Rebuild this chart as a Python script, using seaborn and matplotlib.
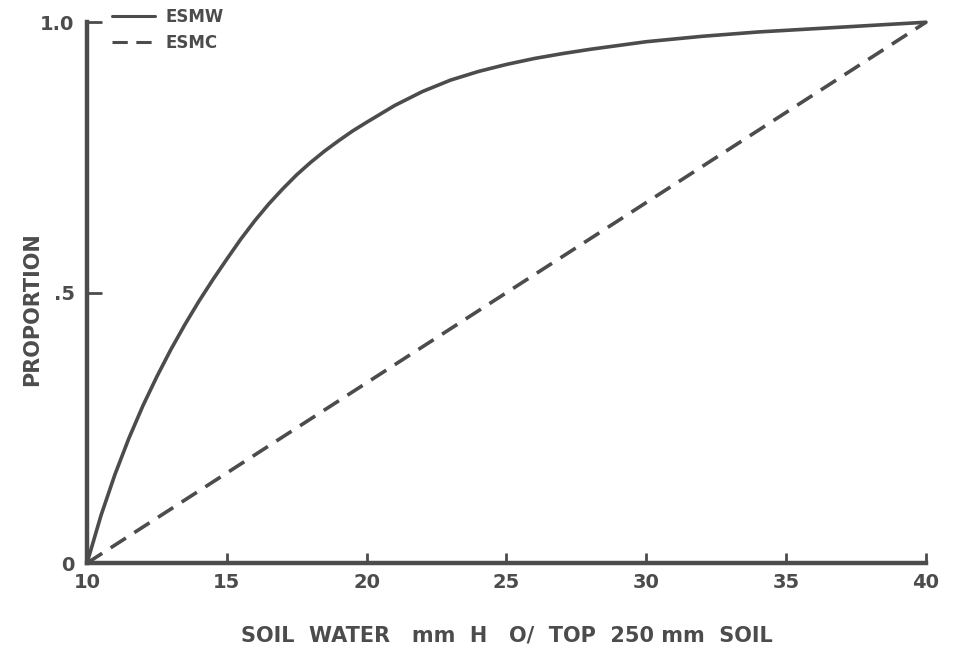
import numpy as np
import pandas as pd
import matplotlib
matplotlib.use("Agg")
import matplotlib.pyplot as plt
import seaborn as sns

# Soil water (mm H2O in the top 250 mm of soil) and the proportion of
# evaporation for each scheme.
esmw_water = [10, 10.5, 11, 11.5, 12, 12.5, 13, 13.5, 14, 14.5, 15, 15.5,
              16, 16.5, 17, 17.5, 18, 18.5, 19, 19.5, 20, 21, 22, 23, 24,
              25, 26, 27, 28, 29, 30, 32, 34, 36, 38, 40]
esmw_prop = [0.000, 0.088, 0.164, 0.231, 0.291, 0.345, 0.395, 0.441, 0.484,
             0.524, 0.562, 0.599, 0.633, 0.664, 0.692, 0.718, 0.741, 0.762,
             0.781, 0.799, 0.815, 0.846, 0.872, 0.893, 0.909, 0.922, 0.933,
             0.942, 0.950, 0.957, 0.964, 0.974, 0.982, 0.988, 0.994, 1.000]

esmc_water = [10, 40]
esmc_prop = [0.0, 1.0]

x_ticks = [10, 15, 20, 25, 30, 35, 40]
y_ticks = [0, 0.5, 1.0]
y_tick_labels = ["0", ".5", "1.0"]

df = pd.concat([
    pd.DataFrame({"water": esmw_water, "prop": esmw_prop, "series": "ESMW"}),
    pd.DataFrame({"water": esmc_water, "prop": esmc_prop, "series": "ESMC"}),
], ignore_index=True)

sns.set_theme(style="white")
plt.rcParams["font.family"] = ["DejaVu Sans"]
plt.rcParams["font.weight"] = "bold"

ink = "#4c4c4c"

fig = plt.figure(figsize=(9.55, 6.54), dpi=100)
ax = fig.add_axes([0.0911, 0.139, 0.8785, 0.827])

sns.lineplot(data=df, x="water", y="prop", hue="series", style="series",
             palette={"ESMW": ink, "ESMC": ink},
             dashes={"ESMW": "", "ESMC": (5, 2.8)},
             linewidth=2.6, ax=ax, legend=True, sort=False)
for ln in ax.lines:
    ln.set_clip_on(False)
    ln.set_solid_capstyle("round")
    ln.set_solid_joinstyle("round")
    ln.set_dash_capstyle("butt")

ax.set_xlim(10, 40)
ax.set_ylim(0, 1.0)
sns.despine(ax=ax)
for side in ("left", "bottom"):
    ax.spines[side].set_linewidth(3.2)
    ax.spines[side].set_color(ink)

ax.set_xticks(x_ticks)
ax.set_yticks(y_ticks)
ax.set_yticklabels(y_tick_labels)
ax.tick_params(axis="x", direction="in", length=7, width=2, color=ink,
               labelsize=14, labelcolor=ink, pad=7, bottom=True)
ax.tick_params(axis="y", direction="in", length=11, width=2, color=ink,
               labelsize=14, labelcolor=ink, pad=9, left=True)

ax.set_xlabel("SOIL  WATER   mm  H   O/  TOP  250 mm  SOIL", fontsize=15,
              color=ink, labelpad=24, fontweight="bold")
ax.set_ylabel("PROPORTION", fontsize=15, color=ink, fontweight="bold")
ax.yaxis.set_label_coords(-0.054, 0.47)

leg = ax.legend(loc="upper left", bbox_to_anchor=(0.117, 0.988),
                bbox_transform=fig.transFigure, frameon=False,
                prop={"size": 12, "weight": "bold"}, handlelength=2.6,
                handletextpad=0.6, labelspacing=0.5, borderpad=0.0,
                borderaxespad=0.0)
for txt in leg.get_texts():
    txt.set_color(ink)
for h in leg.get_lines():
    h.set_linewidth(2.2)

fig.savefig("out.png", dpi=100, facecolor="white")
